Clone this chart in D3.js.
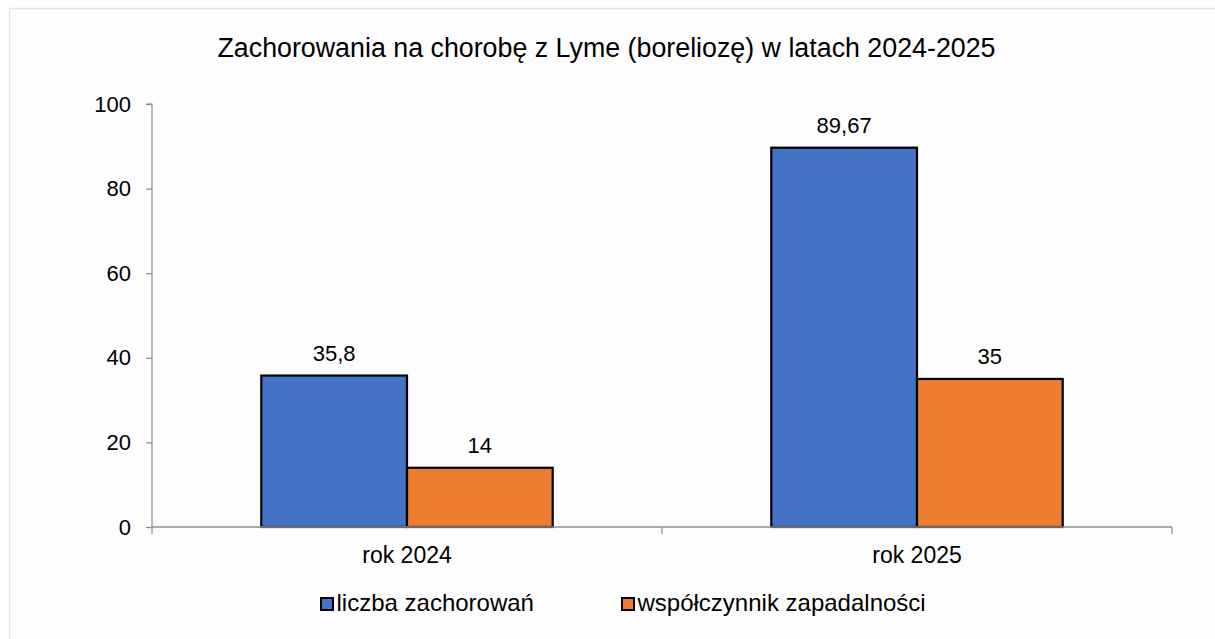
<!DOCTYPE html>
<html><head><meta charset="utf-8">
<script src="https://cdn.jsdelivr.net/npm/d3@7"></script>
<style>body{margin:0;background:#fff}svg{display:block}text{font-family:"Liberation Sans",Arial,sans-serif;fill:#000}</style>
</head><body>
<script>
const categories = ["rok 2024", "rok 2025"];
const seriesNames = ["liczba zachorowań", "współczynnik zapadalności"];
const liczba = [35.8, 89.67];
const wspolczynnik = [14, 35];
const valueLabels = [["35,8", "89,67"], ["14", "35"]];
const yTicks = [0, 20, 40, 60, 80, 100];
const colors = ["#4472C4", "#ED7D31"];
const title = "Zachorowania na chorobę z Lyme (boreliozę) w latach 2024-2025";

const W = 1215, H = 639;
const svg = d3.select("body").append("svg").attr("width", W).attr("height", H);
svg.append("rect").attr("x", 9.5).attr("y", 8.5).attr("width", W).attr("height", H)
  .attr("fill", "#fdfdfd").attr("stroke", "#e4e4e4").attr("stroke-width", 1.5);

const pL = 152, pR = 1172, pT = 104, pB = 527;
const x = d3.scaleBand().domain(categories).range([pL, pR]).paddingInner(0).paddingOuter(0);
const y = d3.scaleLinear().domain([0, 100]).range([pB, pT]);
const inner = d3.scaleBand().domain([0, 1]).range([0, x.bandwidth()]).paddingOuter(0.75).paddingInner(0);

svg.append("text").attr("x", 606.5).attr("y", 56.5).attr("text-anchor", "middle")
  .style("font-size", "26.8px").text(title);

// y axis
const ya = svg.append("g").attr("transform", `translate(${pL},0)`)
  .call(d3.axisLeft(y).tickValues(yTicks).tickSize(6).tickPadding(15).tickFormat(d3.format("d")));
ya.select(".domain").attr("stroke", "#8c8c8c").attr("stroke-width", 1.2).attr("d", `M-6,${pT}H0V${pB}`);
ya.selectAll(".tick line").attr("stroke", "#8c8c8c").attr("stroke-width", 1.2);
ya.selectAll(".tick text").style("font-size", "22px").attr("fill", "#000").attr("font-family", "Liberation Sans, Arial, sans-serif");

// bars
const series = [liczba, wspolczynnik];
series.forEach((vals, si) => {
  svg.append("g").selectAll("rect").data(vals).join("rect")
    .attr("x", (d, i) => x(categories[i]) + inner(si))
    .attr("y", d => y(d))
    .attr("width", inner.bandwidth())
    .attr("height", d => y(0) - y(d))
    .attr("fill", colors[si]).attr("stroke", "#000").attr("stroke-width", 2.2);
  svg.append("g").selectAll("text").data(vals).join("text")
    .attr("x", (d, i) => x(categories[i]) + inner(si) + inner.bandwidth() / 2)
    .attr("y", d => y(d) - 14.5)
    .attr("text-anchor", "middle").style("font-size", "22px")
    .text((d, i) => valueLabels[si][i]);
});

// x axis
const xa = svg.append("g").attr("transform", `translate(0,${pB})`)
  .call(d3.axisBottom(x).tickSize(0).tickPadding(0));
xa.select(".domain").attr("stroke", "#8c8c8c").attr("stroke-width", 1.5).attr("d", `M${pL},0H${pR}`);
xa.selectAll(".tick text").style("font-size", "23px").attr("fill", "#000").attr("font-family", "Liberation Sans, Arial, sans-serif").attr("y", 36).attr("dy", null);
const bounds = [pL, ...categories.map(c => x(c) + x.bandwidth())];
svg.append("g").selectAll("line").data(bounds).join("line")
  .attr("x1", d => d).attr("x2", d => d).attr("y1", pB).attr("y2", pB + 7)
  .attr("stroke", "#8c8c8c").attr("stroke-width", 1.2);

// legend
const legendX = [321, 622];
const lg = svg.append("g");
seriesNames.forEach((n, i) => {
  lg.append("rect").attr("x", legendX[i]).attr("y", 598).attr("width", 12).attr("height", 12)
    .attr("fill", colors[i]).attr("stroke", "#000").attr("stroke-width", 2);
  lg.append("text").attr("x", legendX[i] + 15.5).attr("y", 611).style("font-size", "24px").text(n);
});
</script>
</body></html>
